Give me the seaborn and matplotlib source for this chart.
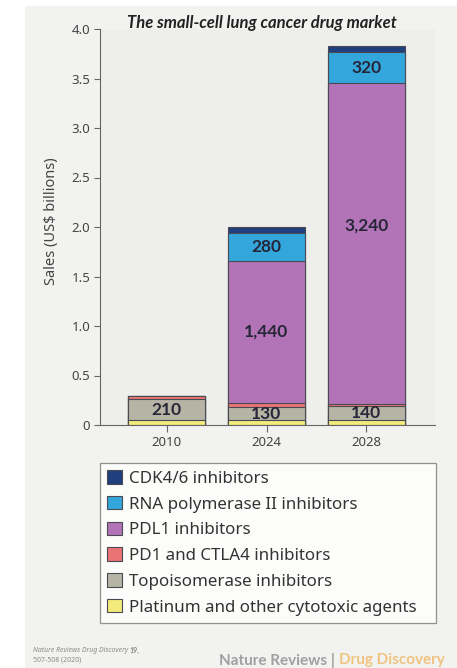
import numpy as np
import pandas as pd
import matplotlib
matplotlib.use("Agg")
import matplotlib.pyplot as plt
import seaborn as sns
from matplotlib.patches import Patch, Rectangle

# ---- data (US$ billions) ----
years = ["2010", "2024", "2028"]
platinum = [0.05, 0.05, 0.05]
topoisomerase = [0.21, 0.13, 0.14]
pd1_ctla4 = [0.03, 0.04, 0.02]
pdl1 = [0.0, 1.44, 3.24]
rna_pol2 = [0.0, 0.28, 0.32]
cdk46 = [0.0, 0.06, 0.06]

series_names = ["Platinum and other cytotoxic agents", "Topoisomerase inhibitors",
                "PD1 and CTLA4 inhibitors", "PDL1 inhibitors",
                "RNA polymerase II inhibitors", "CDK4/6 inhibitors"]
series_values = [platinum, topoisomerase, pd1_ctla4, pdl1, rna_pol2, cdk46]
series_colors = ["#f3ec7c", "#b6b4a5", "#ea7474", "#b274b6", "#33a6dc", "#1f3f7e"]

# labelled segments: (series index, year index, text)
label_series = [1, 1, 1, 3, 3, 4, 4]
label_years = [0, 1, 2, 1, 2, 1, 2]
label_texts = ["210", "130", "140", "1,440", "3,240", "280", "320"]

yticks = [0, 0.5, 1.0, 1.5, 2.0, 2.5, 3.0, 3.5, 4.0]
ytick_labels = ["0", "0.5", "1.0", "1.5", "2.0", "2.5", "3.0", "3.5", "4.0"]

sns.set_theme(style="white")
plt.rcParams["font.family"] = ["Noto Sans", "DejaVu Sans"]
BOLD = ["Lato", "DejaVu Sans"]

W, H = 457, 668
fig = plt.figure(figsize=(W / 100, H / 100), dpi=100, facecolor="white")
# grey panel background
fig.patches.append(Rectangle((25 / W, 0), 1 - 25 / W, 1 - 6 / H, transform=fig.transFigure,
                             facecolor="#f2f2f0", edgecolor="none", zorder=-10))

ax = fig.add_axes([100 / W, 1 - 425 / H, 335 / W, 396 / H])
ax.set_facecolor("#eeeeeb")

cum = np.cumsum(np.array(series_values), axis=0)
# draw from the top layer down so that shorter cumulative bars overlay
for i in range(len(series_names) - 1, -1, -1):
    df = pd.DataFrame({"year": years, "value": cum[i]})
    sns.barplot(data=df, x="year", y="value", color=series_colors[i], saturation=1,
                width=0.77, edgecolor="#4a4a52", linewidth=0.8, ax=ax, zorder=2)

for s, yi, txt in zip(label_series, label_years, label_texts):
    lo = cum[s - 1][yi] if s > 0 else 0
    hi = cum[s][yi]
    yc = (lo + hi) / 2
    if txt == "3,240":
        yc = hi - 1.44
    ax.text(yi, yc, txt, ha="center", va="center", fontsize=12.5, fontweight="bold",
            family=BOLD, color="#262638", zorder=5)

ax.set_xlim(-0.67, 2.69)
ax.set_ylim(0, 4.0)
ax.set_yticks(yticks)
ax.set_yticklabels(ytick_labels)
ax.set_xlabel("")
ax.set_ylabel("")
for side in ["top", "right"]:
    ax.spines[side].set_visible(False)
for side in ["left", "bottom"]:
    ax.spines[side].set_color("#666666")
    ax.spines[side].set_linewidth(0.8)
ax.tick_params(axis="y", which="both", left=True, length=4, width=0.8, color="#666666",
               labelsize=9.5, labelcolor="#444444", pad=3)
ax.tick_params(axis="x", which="both", bottom=True, length=5, width=0.8, color="#666666",
               labelsize=9.5, labelcolor="#444444", pad=3)

fig.text(0.573, 1 - 23 / H, "The small-cell lung cancer drug market", ha="center", va="center",
         fontsize=12, fontweight="bold", fontstyle="italic", family=BOLD, color="#222222")
fig.text(51 / W, 1 - 221 / H, "Sales (US$ billions)", rotation=90, ha="center", va="center",
         fontsize=10.5, color="#444444")

handles = [Patch(facecolor=series_colors[i], edgecolor="#4a4a52", linewidth=0.8,
                 label=series_names[i]) for i in range(len(series_names) - 1, -1, -1)]
leg = fig.legend(handles=handles, loc="upper left",
                 bbox_to_anchor=(100 / W, 1 - 463 / H, 336 / W, 0), mode="expand",
                 borderaxespad=0, frameon=True, fancybox=False, fontsize=12.2,
                 handlelength=0.85, handleheight=0.85, handletextpad=0.45,
                 labelspacing=0.54, borderpad=0.42, labelcolor="#333333")
leg.get_frame().set_edgecolor("#777777")
leg.get_frame().set_linewidth(0.9)
leg.get_frame().set_facecolor("white")

renderer = fig.canvas.get_renderer()

# footer
f1 = fig.text(33 / W, 1 - 650 / H, "Nature Reviews Drug Discovery ", fontsize=5, fontstyle="italic",
              color="#8a8a8a", va="center", ha="left")
b1 = f1.get_window_extent(renderer=renderer)
fig.text(b1.x1 / fig.bbox.width, 1 - 650 / H, "19,", fontsize=5, family=BOLD,
         fontweight="bold", color="#8a8a8a", va="center", ha="left")
fig.text(33 / W, 1 - 660 / H, "507-508 (2020)", fontsize=5, color="#8a8a8a", va="center", ha="left")

t2 = fig.text(445 / W, 1 - 660 / H, "Drug Discovery", fontsize=11, fontweight="bold", family=BOLD,
              color="#f0c480", ha="right", va="center")
bb = t2.get_window_extent(renderer=renderer)
x0 = bb.x0 / fig.bbox.width
fig.text(x0 - 4 / W, 1 - 660 / H, "Nature Reviews |", fontsize=11, fontweight="bold", family=BOLD,
         color="#a0a0a0", ha="right", va="center")

fig.savefig("out.png", dpi=100, facecolor="white")
